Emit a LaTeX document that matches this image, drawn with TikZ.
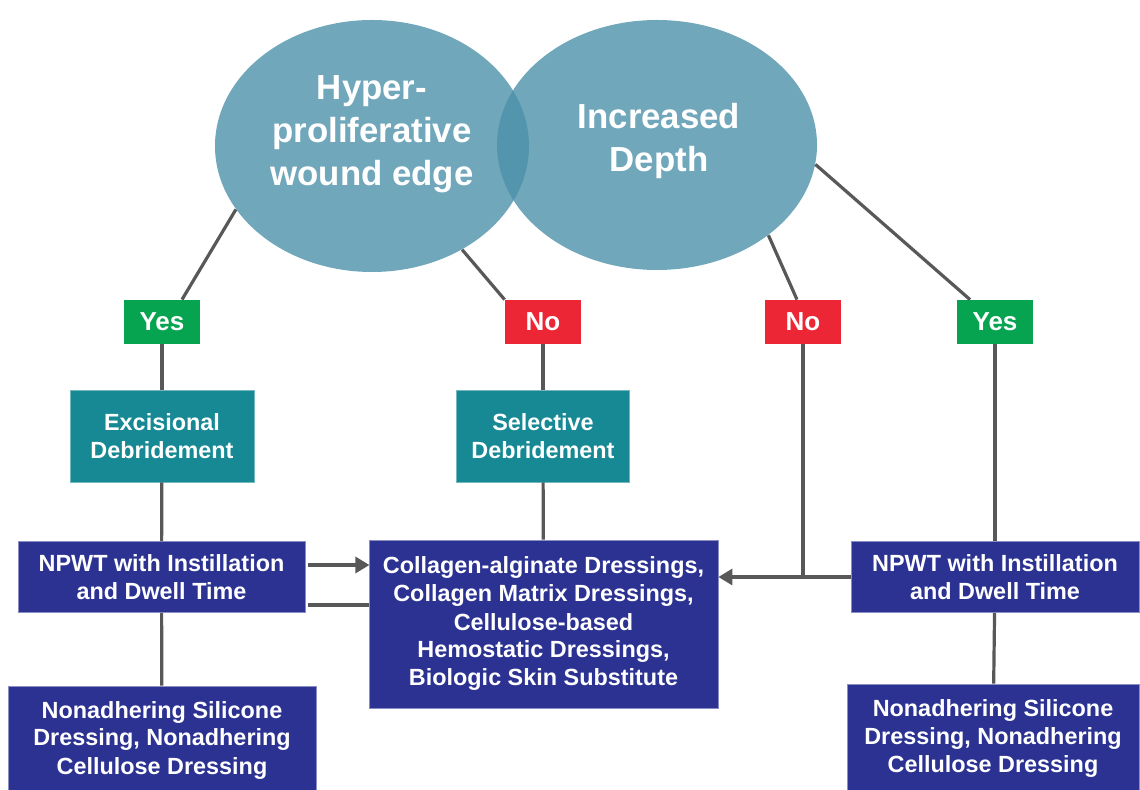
\documentclass[tikz,border=0pt]{standalone}
\usepackage{fontspec}
\setmainfont{Liberation Sans}
\usepackage{tikz}
\usepackage{xcolor}
\usetikzlibrary{arrows.meta,positioning,shapes.geometric,calc}
\definecolor{woundblue}{RGB}{76,145,170}
\definecolor{woundgreen}{RGB}{6,164,80}
\definecolor{woundred}{RGB}{236,38,52}
\definecolor{woundteal}{RGB}{22,137,148}
\definecolor{woundnavy}{RGB}{44,50,146}
\definecolor{linegray}{RGB}{88,88,88}

\begin{document}
\begin{tikzpicture}[x=0.5pt, y=-0.5pt, >={Triangle[length=7pt,width=8pt]},
  every node/.style={text=white, align=center},
  oval/.style={ellipse, fill=woundblue, fill opacity=0.8, inner sep=0pt},
  ovaltext/.style={font=\fontsize{17.4}{21.5}\selectfont\bfseries},
  answer/.style={inner sep=0pt, minimum width=38pt, minimum height=22pt, font=\fontsize{13}{15}\selectfont\bfseries},
  yesbox/.style={answer, fill=woundgreen},
  nobox/.style={answer, fill=woundred},
  debride/.style={fill=woundteal, draw=woundteal!60!white, line width=0.4pt, inner sep=0pt, font=\fontsize{11.7}{14}\selectfont\bfseries},
  dressing/.style={fill=woundnavy, draw=woundnavy!55!white, line width=0.4pt, inner sep=0pt, font=\fontsize{11.7}{14}\selectfont\bfseries},
  link/.style={draw=linegray, line width=1.6pt}]
\useasboundingbox (0,0) rectangle (1140,790);

% the two assessments
\node[oval, minimum width=157pt, minimum height=126pt] (hyper) at (372,146) {};
\node[oval, minimum width=160pt, minimum height=125pt] (depth) at (657,145) {};
\node[ovaltext] (hypertxt) at (372,134) {Hyper-\\proliferative\\wound edge};
\node[ovaltext] (depthtxt) at (659,141) {Increased\\Depth};

% answers
\node[yesbox] (yesL) at (162,322) {Yes};
\node[nobox] (noL) at (543,322) {No};
\node[nobox] (noR) at (803,322) {No};
\node[yesbox] (yesR) at (995,322) {Yes};

% debridement
\node[debride, minimum width=92pt, minimum height=46pt] (excis) at (162,436) {Excisional\\Debridement};
\node[debride, minimum width=86.5pt, minimum height=46pt] (select) at (543,436) {Selective\\Debridement};

% dressings and NPWT
\node[dressing, minimum width=143.5pt, minimum height=35.5pt] (npwtL) at (161.5,577) {NPWT with Instillation\\and Dwell Time};
\node[dressing, minimum width=174.5pt, minimum height=84pt] (collagen) at (543.5,624) {Collagen-alginate Dressings,\\Collagen Matrix Dressings,\\Cellulose-based\\Hemostatic Dressings,\\Biologic Skin Substitute};
\node[dressing, minimum width=144pt, minimum height=35.5pt] (npwtR) at (995,577) {NPWT with Instillation\\and Dwell Time};
\node[dressing, minimum width=154pt, minimum height=54pt] (siliconeL) at (162,740) {Nonadhering Silicone\\Dressing, Nonadhering\\Cellulose Dressing};
\node[dressing, minimum width=146pt, minimum height=54pt] (siliconeR) at (993,738) {Nonadhering Silicone\\Dressing, Nonadhering\\Cellulose Dressing};

% connectors
\draw[link] (hyper.205) -- ($(yesL.north)+(20,0)$);
\draw[link] (hyper.311) -- (noL.north west);
\draw[link] (depth.321.5) -- ($(noR.north)+(-6,0)$);
\draw[link] (depth.353) -- ($(yesR.north)+(-25,0)$);
\draw[link] (yesL) -- (excis);
\draw[link] (excis) -- (npwtL);
\draw[link] (npwtL) -- (siliconeL);
\draw[link] (noL) -- (select);
\draw[link] (select) -- (collagen);
\draw[link] (yesR) -- (npwtR);
\draw[link] (npwtR) -- (siliconeR);
\draw[link, ->] ($(npwtL.east)+(3,-12)$) -- ($(npwtL.east)+(64,-12)$);
\draw[link] ($(npwtL.east)+(3,28)$) -- ($(npwtL.east)+(64,28)$);
\draw[link, ->] (npwtR.west) -- (npwtR.west -| collagen.east);
\draw[link] (noR) -- (noR.south |- npwtR.west);
\end{tikzpicture}
\end{document}
